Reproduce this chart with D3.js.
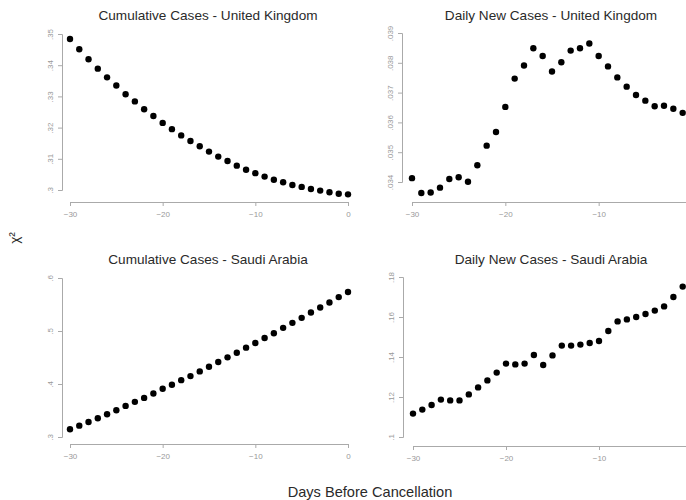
<!DOCTYPE html>
<html>
<head>
<meta charset="utf-8">
<script src="https://cdn.jsdelivr.net/npm/d3@7"></script>
<style>
  body { margin: 0; background: #fff; }
  svg { display: block; font-family: "Liberation Sans", Arial, sans-serif; }
  .tick-label { fill: #999; font-size: 8px; }
  .title { fill: #2a2a2a; font-size: 13.6px; }
</style>
</head>
<body>
<svg id="chart" width="686" height="500"></svg>
<script>
/*** DATA ***/
var cumDays = d3.range(-30, 1);   // -30 .. 0
var dailyDays = d3.range(-30, 0); // -30 .. -1

var ukCumulative = [.3484, .3451, .3419, .3389, .3361, .3335, .3307, .3284, .3259, .3237, .3215,
  .3195, .3175, .3157, .3140, .3123, .3107, .3093, .3078, .3065, .3054, .3043, .3033, .3025,
  .3016, .3010, .3003, .2998, .2993, .2988, .2986];
var ukDaily = [.03413, .03363, .03365, .03381, .03410, .03416, .03401, .03456, .03522, .03568,
  .03652, .03747, .03791, .03849, .03823, .03771, .03802, .03841, .03849, .03865, .03823,
  .03788, .03751, .03720, .03692, .03673, .03654, .03656, .03646, .03632];
var saCumulative = [.3145, .3214, .3284, .3353, .3429, .3505, .3587, .3663, .3738, .3821, .3909,
  .3985, .4073, .4149, .4238, .4326, .4414, .4503, .4591, .4686, .4774, .4869, .4958, .5059,
  .5154, .5248, .5349, .5444, .5539, .5640, .5735];
var saDaily = [.1117, .1137, .1160, .1187, .1183, .1183, .1213, .1248, .1283, .1322, .1367,
  .1363, .1367, .1410, .1360, .1408, .1457, .1457, .1462, .1470, .1480, .1530, .1578, .1588,
  .1600, .1615, .1632, .1653, .1700, .1752];

var cumXTicks = [-30, -20, -10, 0];
var dailyXTicks = [-30, -20, -10]; // 0 falls past the right edge of the picture
var ukCumTicks = [.30, .31, .32, .33, .34, .35];
var ukDailyTicks = [.034, .035, .036, .037, .038, .039];
var saCumTicks = [.3, .4, .5, .6];
var saDailyTicks = [.10, .12, .14, .16, .18];

/*** PANELS ***/
var svg = d3.select('#chart');

function fmt(d) {
  return String(+d.toFixed(3)).replace(/^0/, '');
}

function drawPanel(opt) {
  var g = svg.append('g');
  var x = d3.scaleLinear().domain([-30, 0]).range(opt.xRange);
  var y = d3.scaleLinear().domain(d3.extent(opt.yTicks)).range(opt.yRange);

  //x axis (detached, R style)
  var xa = g.append('g')
    .attr('transform', 'translate(0,' + opt.xAxisY + ')')
    .call(d3.axisBottom(x).tickValues(opt.xTicks).tickSize(4).tickFormat(d3.format('d')));
  //y axis
  var ya = g.append('g')
    .attr('transform', 'translate(' + opt.yAxisX + ',0)')
    .call(d3.axisLeft(y).tickValues(opt.yTicks).tickSize(4).tickFormat(fmt));

  [xa, ya].forEach(function(a) {
    a.select('.domain').attr('stroke', '#aaa');
    a.selectAll('.tick line').attr('stroke', '#aaa');
    a.selectAll('.tick text').attr('class', 'tick-label').attr('font-size', null).attr('fill', null);
  });
  xa.selectAll('.tick text').attr('y', 9);
  ya.selectAll('.tick text')
    .attr('x', null).attr('dy', null)
    .attr('text-anchor', 'middle')
    .attr('transform', 'translate(-9,0) rotate(-90)');

  //points
  g.selectAll('circle')
    .data(opt.values)
    .enter().append('circle')
    .attr('cx', function(d, i) { return x(opt.days[i]); })
    .attr('cy', function(d) { return y(d); })
    .attr('r', 3.2)
    .attr('fill', '#000');

  //title
  g.append('text')
    .attr('class', 'title')
    .attr('x', opt.titleX)
    .attr('y', opt.titleY)
    .attr('text-anchor', 'middle')
    .text(opt.title);
}

drawPanel({ title: 'Cumulative Cases - United Kingdom', days: cumDays, values: ukCumulative, xTicks: cumXTicks,
  yTicks: ukCumTicks, xRange: [70, 348], yRange: [190, 34], xAxisY: 202, yAxisX: 62, titleX: 208, titleY: 20 });
drawPanel({ title: 'Daily New Cases - United Kingdom', days: dailyDays, values: ukDaily, xTicks: dailyXTicks,
  yTicks: ukDailyTicks, xRange: [412, 692], yRange: [182, 33], xAxisY: 202, yAxisX: 402, titleX: 551, titleY: 20 });
drawPanel({ title: 'Cumulative Cases - Saudi Arabia', days: cumDays, values: saCumulative, xTicks: cumXTicks,
  yTicks: saCumTicks, xRange: [70, 348], yRange: [437, 278], xAxisY: 444, yAxisX: 62, titleX: 208, titleY: 264 });
drawPanel({ title: 'Daily New Cases - Saudi Arabia', days: dailyDays, values: saDaily, xTicks: dailyXTicks,
  yTicks: saDailyTicks, xRange: [413, 692], yRange: [437, 277], xAxisY: 446, yAxisX: 403, titleX: 551, titleY: 264 });

//shared axis labels
svg.append('text')
  .attr('class', 'title')
  .attr('text-anchor', 'middle')
  .attr('font-size', '15px')
  .attr('transform', 'translate(19,238) rotate(-90)')
  .text('χ²');

svg.append('text')
  .attr('class', 'title')
  .attr('x', 370)
  .attr('y', 497)
  .attr('text-anchor', 'middle')
  .style('font-size', '14.6px')
  .text('Days Before Cancellation');
</script>
</body>
</html>
